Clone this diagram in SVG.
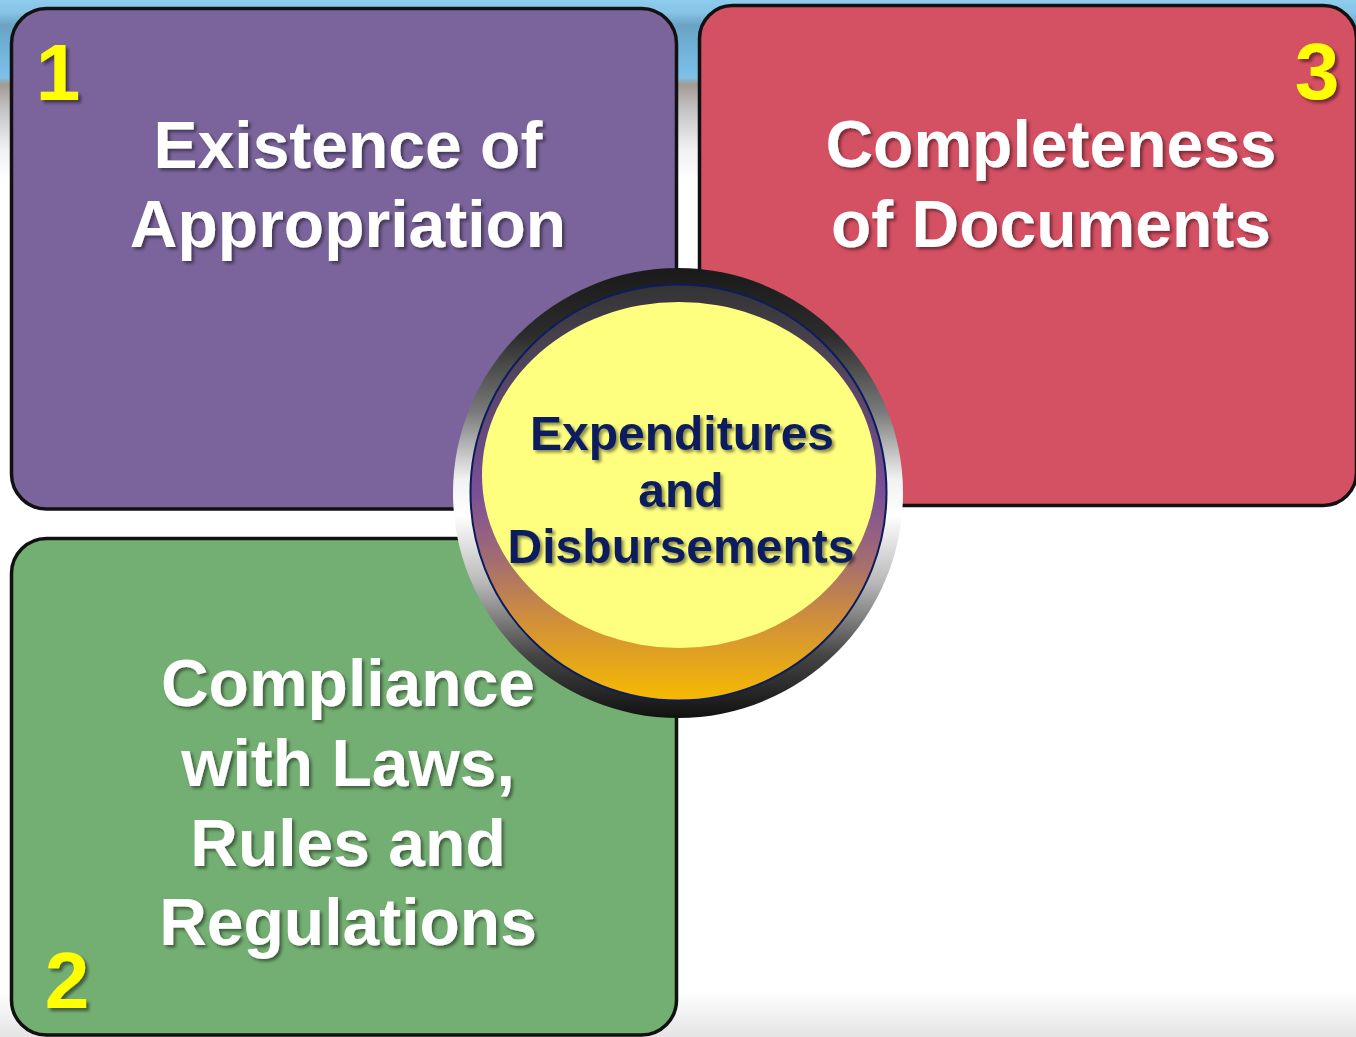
<svg xmlns="http://www.w3.org/2000/svg" width="1356" height="1037" viewBox="0 0 1356 1037">
  <defs>
    <linearGradient id="skyBand" x1="0" y1="0" x2="0" y2="1">
      <stop offset="0" stop-color="#8ecdee"/>
      <stop offset="0.07" stop-color="#86c3e6"/>
      <stop offset="0.14" stop-color="#6aa3c4"/>
      <stop offset="0.25" stop-color="#70b0d8"/>
      <stop offset="0.43" stop-color="#7dc0e7"/>
      <stop offset="0.47" stop-color="#a39a92"/>
      <stop offset="0.6" stop-color="#c2c2c2"/>
      <stop offset="0.82" stop-color="#efefef"/>
      <stop offset="1" stop-color="#ffffff"/>
    </linearGradient>
    <linearGradient id="floorBand" x1="0" y1="0" x2="0" y2="1">
      <stop offset="0" stop-color="#ffffff"/>
      <stop offset="1" stop-color="#e4e4e4"/>
    </linearGradient>
    <linearGradient id="ringGrad" x1="0" y1="0" x2="0" y2="1">
      <stop offset="0" stop-color="#1a1a1a"/>
      <stop offset="0.15" stop-color="#2c2c2c"/>
      <stop offset="0.32" stop-color="#7a7a7a"/>
      <stop offset="0.47" stop-color="#f2f2f2"/>
      <stop offset="0.55" stop-color="#ffffff"/>
      <stop offset="0.7" stop-color="#b8b8b8"/>
      <stop offset="0.86" stop-color="#454545"/>
      <stop offset="1" stop-color="#111111"/>
    </linearGradient>
    <linearGradient id="discGrad" x1="0" y1="0" x2="0" y2="1">
      <stop offset="0" stop-color="#333333"/>
      <stop offset="0.15" stop-color="#4a4252"/>
      <stop offset="0.5" stop-color="#7b4f98"/>
      <stop offset="0.66" stop-color="#a36c72"/>
      <stop offset="0.8" stop-color="#cf8e3c"/>
      <stop offset="1" stop-color="#f7ba00"/>
    </linearGradient>
    <filter id="txtShadow" x="-10%" y="-20%" width="130%" height="150%">
      <feDropShadow dx="2.5" dy="2.5" stdDeviation="1.5" flood-color="#000" flood-opacity="0.45"/>
    </filter>
    <filter id="numShadow" x="-20%" y="-20%" width="150%" height="150%">
      <feDropShadow dx="3" dy="3" stdDeviation="1.5" flood-color="#000" flood-opacity="0.45"/>
    </filter>
  </defs>
  <style>
    .box { stroke: #111111; stroke-width: 3.5; }
    .title { font-family: "Liberation Sans", Arial, sans-serif; font-weight: bold; font-size: 66px; fill: #ffffff; text-anchor: middle; filter: url(#txtShadow); }
    .num { font-family: "Liberation Sans", Arial, sans-serif; font-weight: bold; font-size: 80px; fill: #ffff00; text-anchor: middle; filter: url(#numShadow); }
    .hub { font-family: "Liberation Sans", Arial, sans-serif; font-weight: bold; font-size: 48px; fill: #0d1f5e; text-anchor: middle; filter: url(#txtShadow); }
  </style>

  <!-- backdrop -->
  <rect x="0" y="0" width="1356" height="1037" fill="#ffffff"/>
  <rect x="0" y="0" width="1356" height="180" fill="url(#skyBand)"/>
  <rect x="0" y="990" width="1356" height="47" fill="url(#floorBand)"/>

  <g id="connectors"></g>

  <!-- quadrant 1 -->
  <g id="node-appropriation">
    <rect class="box" x="11.5" y="8.5" width="665" height="500.5" rx="35" fill="#7a649b"/>
    <text class="num" x="58" y="100">1</text>
    <text class="title" x="348" y="168">Existence of</text>
    <text class="title" x="348" y="247">Appropriation</text>
  </g>

  <!-- quadrant 3 -->
  <g id="node-documents">
    <rect class="box" x="699.5" y="5.5" width="657" height="500" rx="33" fill="#d45063"/>
    <text class="num" x="1317" y="99">3</text>
    <text class="title" x="1051" y="167">Completeness</text>
    <text class="title" x="1051" y="247">of Documents</text>
  </g>

  <!-- quadrant 2 -->
  <g id="node-compliance">
    <rect class="box" x="11.5" y="538.5" width="665" height="496.5" rx="35" fill="#73ae72"/>
    <text class="num" x="67" y="1008">2</text>
    <text class="title" x="348" y="706">Compliance</text>
    <text class="title" x="348" y="786">with Laws,</text>
    <text class="title" x="348" y="866">Rules and</text>
    <text class="title" x="348" y="945">Regulations</text>
  </g>

  <!-- central hub -->
  <g id="node-hub">
    <circle cx="678" cy="493" r="225" fill="url(#ringGrad)"/>
    <circle cx="678.5" cy="492.5" r="208" fill="url(#discGrad)" stroke="#0b1d5c" stroke-width="2"/>
    <ellipse cx="679" cy="475" rx="197" ry="173" fill="#ffff7f"/>
    <text class="hub" x="682" y="450">Expenditures</text>
    <text class="hub" x="681" y="507">and</text>
    <text class="hub" x="681" y="563">Disbursements</text>
  </g>
</svg>
